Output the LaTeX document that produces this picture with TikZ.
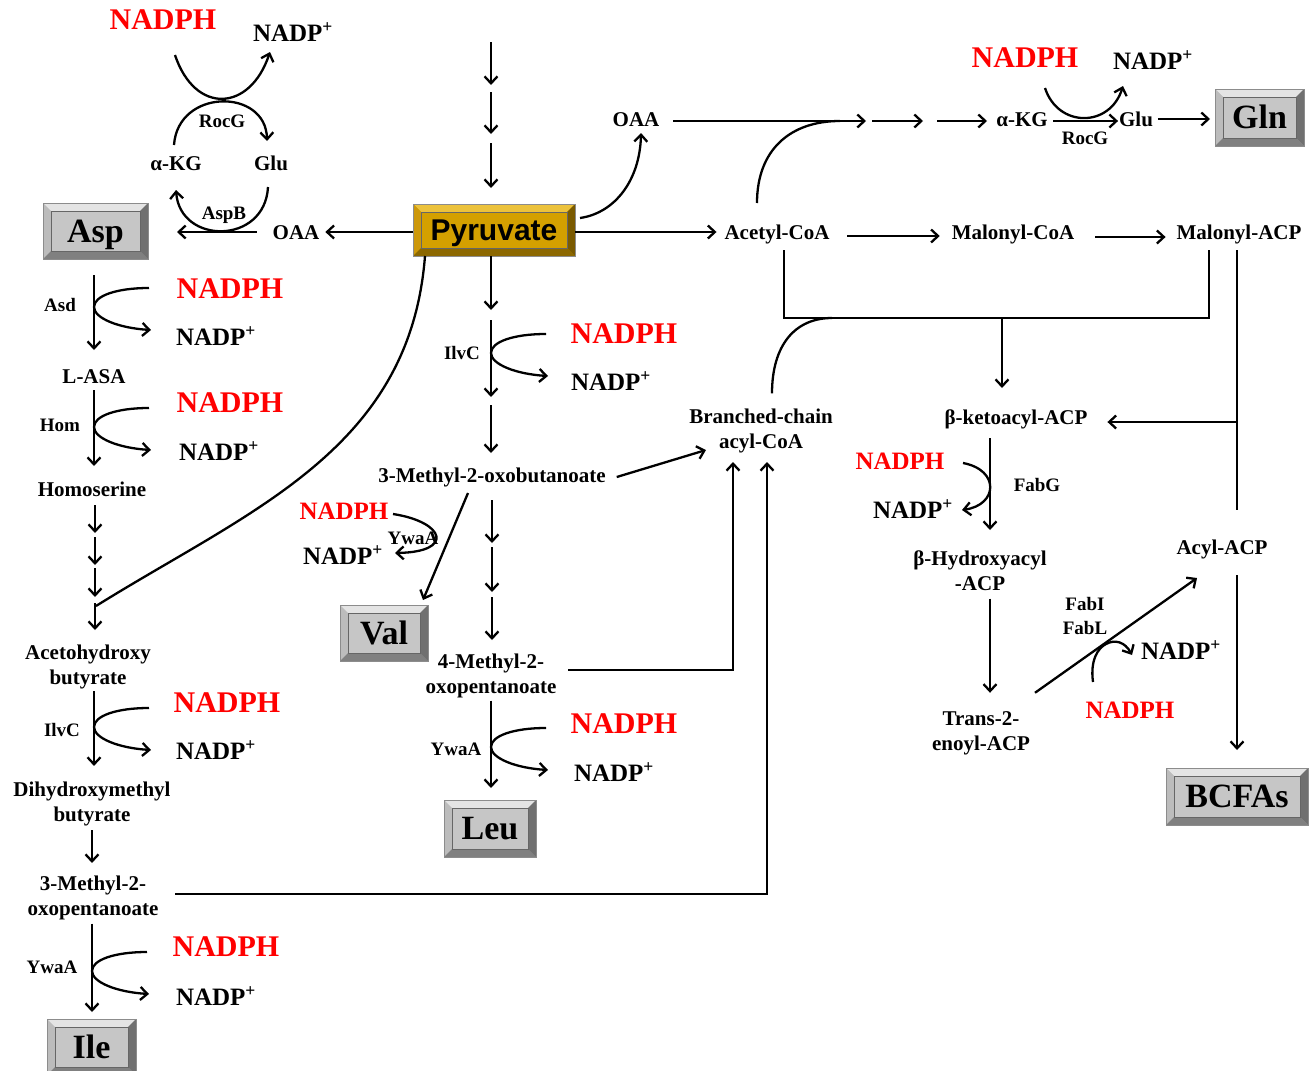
\documentclass[tikz,border=0pt]{standalone}
\usepackage{fontspec}
\setmainfont{Liberation Serif}
\newfontfamily\arialfont{Liberation Sans}
\usetikzlibrary{arrows.meta,calc}
\definecolor{nred}{RGB}{255,0,0}
\definecolor{gface}{RGB}{198,198,198}
\definecolor{glight}{RGB}{228,228,228}
\definecolor{gmid}{RGB}{188,188,188}
\definecolor{gdark}{RGB}{128,128,128}
\definecolor{gdarker}{RGB}{112,112,112}
\definecolor{yface}{RGB}{212,160,0}
\definecolor{ylight}{RGB}{236,194,60}
\definecolor{ymid}{RGB}{205,152,10}
\definecolor{ydark}{RGB}{140,104,0}
\definecolor{ydarker}{RGB}{122,90,0}
\newcommand\bevelframe[6]{%
\fill[#3] (#1.north west) -- (#1.north east) -- ([xshift=-#2,yshift=-#2]#1.north east) -- ([xshift=#2,yshift=-#2]#1.north west) -- cycle;
\fill[#4] (#1.north west) -- ([xshift=#2,yshift=-#2]#1.north west) -- ([xshift=#2,yshift=#2]#1.south west) -- (#1.south west) -- cycle;
\fill[#5] (#1.south west) -- ([xshift=#2,yshift=#2]#1.south west) -- ([xshift=-#2,yshift=#2]#1.south east) -- (#1.south east) -- cycle;
\fill[#6] (#1.south east) -- ([xshift=-#2,yshift=#2]#1.south east) -- ([xshift=-#2,yshift=-#2]#1.north east) -- (#1.north east) -- cycle;
\draw[black!60,line width=0.9pt] ([xshift=#2,yshift=-#2]#1.north west) rectangle ([xshift=-#2,yshift=#2]#1.south east);
\draw[black!45,line width=0.9pt] (#1.north west) rectangle (#1.south east);
}
\tikzset{
  lbl/.style={font=\fontsize{21}{25}\selectfont\bfseries, inner sep=0pt, outer sep=0pt, text height=14pt, text depth=0pt},
  lbltwo/.style={font=\fontsize{21}{25}\selectfont\bfseries, inner sep=0pt, outer sep=0pt, align=center},
  enz/.style={font=\fontsize{19}{21}\selectfont\bfseries, inner sep=0pt, outer sep=0pt, text height=12.5pt, text depth=0pt},
  enztwo/.style={font=\fontsize{19}{24}\selectfont\bfseries, inner sep=0pt, outer sep=0pt, align=center},
  nadph/.style={font=\fontsize{30}{32}\selectfont\bfseries, text=nred, inner sep=0pt, outer sep=0pt, text height=19.8pt, text depth=0pt},
  nadphs/.style={font=\fontsize{25}{27}\selectfont\bfseries, text=nred, inner sep=0pt, outer sep=0pt, text height=16.5pt, text depth=0pt},
  nadp/.style={font=\fontsize{25}{27}\selectfont\bfseries, inner sep=0pt, outer sep=0pt, text height=16.5pt, text depth=0pt},
  abox/.style={fill=gface, inner sep=0pt, outer sep=0pt, font=\fontsize{34}{36}\selectfont\bfseries, text height=22.4pt, text depth=0pt},
  ybox/.style={fill=yface, inner sep=0pt, outer sep=0pt, font=\arialfont\fontsize{30}{32}\selectfont\bfseries, text height=21.5pt, text depth=0pt},
  arr/.style={->, line width=2.3pt},
  ln/.style={line width=2.3pt},
  cof/.pic={\draw[arr] (55,0) .. controls (22,0) and (0,8) .. (0,19) .. controls (0,30) and (24,40) .. (57,42);}
}
\begin{document}
\begin{tikzpicture}[x=1pt,y=-1pt, >={Straight Barb[length=7pt,width=13pt]}]
\useasboundingbox (0,0) rectangle (1312,1071);
\clip (0,0) rectangle (1312,1071);

% axis helpers
\coordinate (xL) at (94,0);
\coordinate (xL2) at (92,0);
\coordinate (xC) at (491,0);
\coordinate (xM) at (492,0);
\coordinate (xR) at (990,0);

% ---------------- boxes ----------------
\node[abox, minimum width=105pt, minimum height=56pt] (asp) at (95.5,231) {Asp};
\bevelframe{asp}{8pt}{glight}{gmid}{gdark}{gdarker}
\node[ybox, minimum width=162pt, minimum height=52pt] (pyr) at (494,230) {Pyruvate};
\bevelframe{pyr}{8pt}{ylight}{ymid}{ydark}{ydarker}
\node[abox, minimum width=89pt, minimum height=57pt] (gln) at (1259.5,117.5) {Gln};
\bevelframe{gln}{8pt}{glight}{gmid}{gdark}{gdarker}
\node[abox, minimum width=88pt, minimum height=56pt] (val) at (384,633) {Val};
\bevelframe{val}{8pt}{glight}{gmid}{gdark}{gdarker}
\node[abox, minimum width=92pt, minimum height=57pt] (leu) at (490,828.5) {Leu};
\bevelframe{leu}{8pt}{glight}{gmid}{gdark}{gdarker}
\node[abox, minimum width=89pt, minimum height=56pt] (ile) at (91.5,1047) {Ile};
\bevelframe{ile}{8pt}{glight}{gmid}{gdark}{gdarker}
\node[abox, minimum width=142pt, minimum height=57pt] (bcfa) at (1237,796.5) {BCFAs};
\bevelframe{bcfa}{8pt}{glight}{gmid}{gdark}{gdarker}

% ---------------- top-left cycle ----------------
\node[nadph] (nh1) at (163,20) {NADPH};
\node[nadp] (np1) at (293,33) {NADP\textsuperscript{+}};
\node[lbl] (akg1) at (176,163) {α-KG};
\node[lbl] (glu1) at (271,163) {Glu};
\node[enz] (rocg1) at (222,121) {RocG};
\node[enz] (aspb) at (224,213) {AspB};
\node[lbl] (oaa1) at (296,232) {OAA};
\draw[arr] (175,55) .. controls (195,115) and (250,112) .. (270,52);
\draw[arr] (174,145) .. controls (178,88) and (266,88) .. (267,141);
\draw[arr] (268,187) .. controls (265,245) and (180,245) .. (176,190);
\draw[arr, shorten <=16pt, shorten >=29pt] (oaa1.west) -- (oaa1.west -| asp.east);
\draw[arr, shorten >=6pt] (pyr.west |- oaa1) -- (oaa1.east);

% ---------------- left column ----------------
\node[lbl] (lasa) at (94,376) {L-ASA};
\draw[arr, shorten <=16pt, shorten >=19pt] (asp.south -| lasa) -- (lasa.north);
\pic at (94,288) {cof};
\node[enz] (asd) at (60,305) {Asd};
\node[nadph] (nh2) at (230,289) {NADPH};
\node[nadp] (np2) at (216,337) {NADP\textsuperscript{+}};

\node[lbl] (hser) at (92,489) {Homoserine};
\draw[arr, shorten <=7pt, shorten >=16pt] (lasa.south) -- (lasa.south |- hser.north);
\pic at (94,408) {cof};
\node[enz] (hom) at (60,425) {Hom};
\node[nadph] (nh3) at (230,403) {NADPH};
\node[nadp] (np3) at (219,452) {NADP\textsuperscript{+}};

\foreach \a/\l in {9/28, 41/28, 72/29, 107/27}
  \draw[arr] (hser.south) ++(3,\a) -- ++(0,\l);
\coordinate (jn) at (96,606);
\draw[ln] (jn) .. controls (250,510) and (410,450) .. ([xshift=12pt]pyr.south west);

\node[lbltwo] (ahb) at (88,667) {Acetohydroxy\\butyrate};
\node[lbltwo] (dhb) at (92,804) {Dihydroxymethyl\\butyrate};
\draw[arr, shorten <=2pt, shorten >=16pt] (ahb.south -| xL) -- (dhb.north -| xL);
\pic at (94,708) {cof};
\node[enz] (ilvc1) at (62,730) {IlvC};
\node[nadph] (nh4) at (227,703) {NADPH};
\node[nadp] (np4) at (216,751) {NADP\textsuperscript{+}};

\node[lbltwo] (m3op) at (93,898) {3-Methyl-2-\\oxopentanoate};
\draw[arr, shorten <=4pt, shorten >=13pt] (dhb.south -| xL2) -- (m3op.north -| xL2);
\draw[arr, shorten <=3.5pt, shorten >=7pt] (m3op.south -| xL2) -- (ile.north -| xL2);
\pic at (92,952) {cof};
\node[enz] (ywaa1) at (52,967) {YwaA};
\node[nadph] (nh5) at (226,947) {NADPH};
\node[nadp] (np5) at (216,997) {NADP\textsuperscript{+}};

% ---------------- centre column ----------------
\foreach \s/\l in {162/43, 112/42, 61/45}
  \draw[arr] (pyr.north) ++(-3,-\s) -- ++(0,\l);
\node[lbl] (m3ob) at (492,475) {3-Methyl-2-oxobutanoate};
\draw[arr] (pyr.south -| xC) -- ++(0,54);
\draw[arr] (pyr.south -| xC) ++(0,64) -- ++(0,77);
\draw[arr, shorten >=15pt] (pyr.south -| xC) ++(0,149) -- (m3ob.north -| xC);
\pic at (491,334) {cof};
\node[enz] (ilvc2) at (462,353) {IlvC};
\node[nadph] (nh6) at (624,334) {NADPH};
\node[nadp] (np6) at (611,382) {NADP\textsuperscript{+}};

\node[lbltwo] (bc) at (761,431) {Branched-chain\\acyl-CoA};
\coordinate (bcin1) at (706,450);
\coordinate (bcin2) at (733,462);
\coordinate (bcin3) at (767,462);
\draw[arr] (m3ob.east) ++(11,2) -- (bcin1);

\draw[arr] ([xshift=-24pt,yshift=-11pt]m3ob.south) -- ([xshift=-5pt,yshift=5pt]val.north east);
\draw[arr] (393,514) .. controls (445,522) and (455,552) .. (395,553);
\node[nadphs] (nh7) at (344,511) {NADPH};
\node[nadp] (np7) at (343,556) {NADP\textsuperscript{+}};
\node[enz] (ywaa2) at (413,538) {YwaA};

\foreach \a/\l in {18/43, 65/45, 115/43}
  \draw[arr] (m3ob.south) ++(0,\a) -- ++(0,\l);
\node[lbltwo] (m4op) at (491,676) {4-Methyl-2-\\oxopentanoate};
\coordinate (m4out) at (568,670);
\draw[arr] (m4out) -| (bcin2);
\draw[arr, shorten <=2.5pt, shorten >=12pt] (m4op.south -| xC) -- (leu.north -| xC);
\pic at (491,728) {cof};
\node[enz] (ywaa3) at (456,749) {YwaA};
\node[nadph] (nh8) at (624,724) {NADPH};
\node[nadp] (np8) at (614,773) {NADP\textsuperscript{+}};

\coordinate (lw) at (175,894);
\draw[arr] (lw) -| (bcin3);

% ---------------- top right ----------------
\node[lbl] (oaa2) at (636,119) {OAA};
\draw[arr] ([xshift=5pt,yshift=12pt]pyr.east) .. controls (615,213) and (640,180) .. ([xshift=5pt,yshift=-7pt]oaa2.south);
\coordinate (jtca) at (866,121);
\draw[arr, shorten <=14pt] (oaa2.east |- jtca) -- (jtca);
\draw[arr] (jtca) ++(6,0) -- ++(51,0);
\draw[arr] (jtca) ++(71,0) -- ++(50,0);
\node[lbl] (akg2) at (1022,119) {α-KG};
\node[lbl] (glu2) at (1136,119) {Glu};
\node[enz] (rocg2) at (1085,138) {RocG};
\node[nadph] (nh9) at (1025,58) {NADPH};
\node[nadp] (np9) at (1153,61) {NADP\textsuperscript{+}};
\draw[arr, shorten <=5.5pt, shorten >=1pt] ([yshift=-2pt]akg2.east) -- ([yshift=-2pt]glu2.west);
\draw[arr] (1045,88) .. controls (1058,128) and (1110,128) .. (1123,86);
\draw[arr, shorten <=5pt, shorten >=5pt] (glu2.east) -- (gln.west |- glu2);

\node[lbl] (acoa) at (777,232) {Acetyl-CoA};
\node[lbl] (malcoa) at (1013,232) {Malonyl-CoA};
\node[lbl] (malacp) at (1239,232) {Malonyl-ACP};
\draw[ln] ([xshift=-20pt,yshift=22pt]acoa.north) .. controls (757,150) and (790,121) .. ([xshift=-26pt]jtca);
\draw[arr, shorten >=8pt] (pyr.east |- acoa) -- (acoa.west);
\draw[arr, shorten <=18pt, shorten >=12pt] ([yshift=-4pt]acoa.east) -- ([yshift=-4pt]malcoa.west);
\draw[arr, shorten <=21pt, shorten >=11pt] ([yshift=-5pt]malcoa.east) -- ([yshift=-5pt]malacp.west);

\coordinate (jl) at (784,318);
\coordinate (jr) at (1209,318);
\coordinate (jm) at (1002,318);
\coordinate (jv) at (1237,422);
\draw[ln, shorten <=11pt, shorten >=11pt] (acoa.south -| jl) -- (jl) -- (jr) -- (malacp.south -| jr);
\node[lbl] (ketoacp) at (1016,417) {β-ketoacyl-ACP};
\draw[arr, shorten >=22pt] (jm) -- (ketoacp.north -| jm);
\draw[ln] ([xshift=11pt,yshift=15.5pt]bc.north) .. controls (772,345) and (795,318) .. ([xshift=48pt]jl);

\node[lbl] (acylacp) at (1222,547) {Acyl-ACP};
\draw[ln, shorten <=11pt, shorten >=30pt] (malacp.south -| jv) -- (acylacp.north -| jv);
\draw[arr, shorten >=20pt] (jv) -- (ketoacp.east |- jv);
\draw[arr, shorten <=21pt, shorten >=18pt] (acylacp.south -| jv) -- (bcfa.north -| jv);

\node[lbltwo] (hyd) at (980,570.5) {β-Hydroxyacyl\\-ACP};
\draw[arr, shorten <=14pt, shorten >=20.5pt] (ketoacp.south -| xR) -- (hyd.north -| xR);
\node[enz] (fabg) at (1037,485) {FabG};
\node[nadphs] (nh10) at (900,461) {NADPH};
\node[nadp] (np10) at (913,510) {NADP\textsuperscript{+}};
\draw[arr] (963,463) .. controls (1000,470) and (998,505) .. (962,510);

\node[lbltwo] (enoyl) at (981,733) {Trans-2-\\enoyl-ACP};
\draw[arr, shorten <=8pt, shorten >=18.5pt] (hyd.south -| xR) -- (enoyl.north -| xR);
\draw[arr] ([xshift=5pt,yshift=18.5pt]enoyl.north east) -- ([xshift=20.5pt,yshift=-24pt]acylacp.south west);
\node[enztwo] (fabi) at (1085,616) {FabI\\FabL};
\node[nadp] (np11) at (1181,651) {NADP\textsuperscript{+}};
\node[nadphs] (nh11) at (1130,710) {NADPH};
\draw[arr] (1093,682) .. controls (1090,660) and (1098,648) .. (1106,644) .. controls (1115,639) and (1125,642) .. (1132,655);
\end{tikzpicture}
\end{document}
